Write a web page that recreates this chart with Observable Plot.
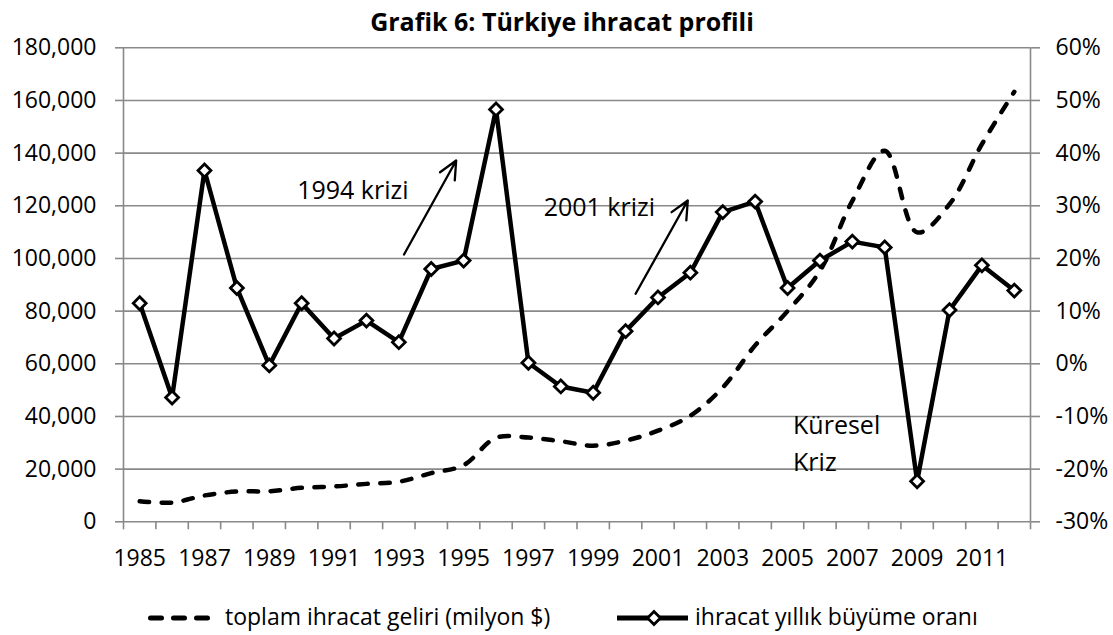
<!DOCTYPE html>
<html>
<head>
<meta charset="utf-8">
<script src="https://cdn.jsdelivr.net/npm/d3@7"></script>
<script src="https://cdn.jsdelivr.net/npm/@observablehq/plot@0.6"></script>
<style>
  body { margin: 0; background: #fff; font-family: 'Open Sans', sans-serif; }
  #page { position: relative; width: 1113px; height: 635px; overflow: hidden; background: #fff; }
  #title { position: absolute; left: 0; top: 8.5px; width: 1124px; z-index: 2;
           text-align: center; font-weight: bold; font-size: 25px; line-height: 25px; color: #000; }
  #chart { position: absolute; left: 0; top: 0; }
  #legend { position: absolute; left: 0; top: 600px; display: block; }
</style>
</head>
<body>
<div id="page">
  <div id="title">Grafik 6: Türkiye ihracat profili</div>
  <div id="chart"></div>
  <svg id="legend" width="1113" height="35"></svg>
</div>
<script>
// ---- data ----
const years = [1985,1986,1987,1988,1989,1990,1991,1992,1993,1994,1995,1996,1997,1998,
               1999,2000,2001,2002,2003,2004,2005,2006,2007,2008,2009,2010,2011,2012];
// toplam ihracat geliri (milyon $) – left axis
const exportsMn = [7800,7300,10000,11500,11600,12900,13400,14400,15200,18500,21500,31900,32000,30600,
                   28900,30800,34600,40300,51000,67000,80000,95300,121900,140900,109900,120600,143400,163300];
// ihracat yıllık büyüme oranı (%) – right axis
const growthPct = [11.5,-6.4,36.7,14.4,-0.3,11.5,4.8,8.2,4.1,18.0,19.6,48.3,0.2,-4.3,
                   -5.5,6.2,12.6,17.3,28.8,30.8,14.4,19.6,23.2,22.1,-22.3,10.2,18.7,13.9];
const leftTicks = [0,20000,40000,60000,80000,100000,120000,140000,160000,180000];
const rightTicks = [-30,-20,-10,0,10,20,30,40,50,60];
const yearLabels = [1985,1987,1989,1991,1993,1995,1997,1999,2001,2003,2005,2007,2009,2011];
const seriesNames = ["toplam ihracat geliri (milyon $)", "ihracat yıllık büyüme oranı"];
// annotations (in data units: year, left-axis value)
const noteText = ["1994 krizi", "2001 krizi", "Küresel", "Kriz"];
const noteYear = [1989.86, 1997.47, 2005.17, 2005.17];
const noteVal  = [125700, 119100, 36450, 22500];
const arrowYear1 = [1993.16, 2000.31];
const arrowVal1  = [101500, 86600];
const arrowYear2 = [1994.77, 2001.92];
const arrowVal2  = [137200, 122000];

// ---- helpers ----
const toLeft = g => (g + 30) * 2000;   // map % to left-axis units (-30..60 -> 0..180000)
const gray = "#898989";
const FS = 23;
const NFS = 25;
const bounds = d3.range(years[0] - 0.5, years[years.length - 1] + 1, 1);

const expData = years.map((y, i) => ({year: y, value: exportsMn[i]}));
const grData = years.map((y, i) => ({year: y, value: growthPct[i]}));
const notes = noteText.map((t, i) => ({t, x: noteYear[i], y: noteVal[i]}));
const arrows = arrowYear1.map((x, i) => ({x1: x, y1: arrowVal1[i], x2: arrowYear2[i], y2: arrowVal2[i]}));

const chart = Plot.plot({
  width: 1113,
  height: 600,
  marginLeft: 123,
  marginRight: 83,
  marginTop: 47.3,
  marginBottom: 78.7,
  style: {fontFamily: "'Open Sans', sans-serif", fontSize: FS + "px", color: "#000", background: "transparent"},
  x: {type: "linear", domain: [years[0] - 0.5, years[years.length - 1] + 0.5]},
  y: {type: "linear", domain: [leftTicks[0], leftTicks[leftTicks.length - 1]]},
  marks: [
    Plot.gridY({ticks: leftTicks, stroke: gray, strokeOpacity: 1, strokeWidth: 1.6}),
    Plot.ruleX([bounds[0], bounds[bounds.length - 1]], {stroke: gray, strokeWidth: 1.6}),
    // tick marks
    Plot.axisY({ticks: leftTicks, tickSize: 8, tickFormat: () => "", stroke: gray, strokeWidth: 1.6}),
    Plot.axisY({anchor: "right", ticks: leftTicks, tickSize: 9, tickFormat: () => "", stroke: gray, strokeWidth: 1.6}),
    Plot.axisX({ticks: bounds, tickSize: 8, tickFormat: () => "", stroke: gray, strokeWidth: 1.6}),
    // labels
    Plot.axisY({ticks: leftTicks, tickSize: 0, tickPadding: 27, tickFormat: d3.format(","), fontSize: FS}),
    Plot.axisY({anchor: "right", ticks: rightTicks.map(toLeft), tickSize: 0, tickPadding: 25,
                tickFormat: v => Math.round(v / 2000 - 30) + "%", fontSize: FS}),
    Plot.axisX({ticks: yearLabels, tickSize: 0, tickPadding: 27.4, tickFormat: d => String(d), fontSize: FS}),
    // series
    Plot.line(expData, {x: "year", y: "value", curve: "catmull-rom", stroke: "#000", strokeWidth: 4.5,
                        strokeDasharray: "9.5,12.5", strokeLinecap: "round"}),
    Plot.line(grData, {x: "year", y: d => toLeft(d.value), stroke: "#000", strokeWidth: 4.5, strokeLinejoin: "round"}),
    Plot.dot(grData, {x: "year", y: d => toLeft(d.value), symbol: "diamond2", r: 5.8,
                      fill: "#fff", stroke: "#000", strokeWidth: 2.8}),
    // annotations
    Plot.text(notes, {x: "x", y: "y", text: "t", textAnchor: "start", lineAnchor: "middle", fontSize: NFS, fill: "#000"}),
    Plot.arrow(arrows, {x1: "x1", y1: "y1", x2: "x2", y2: "y2", stroke: "#000", strokeWidth: 2.3,
                        headLength: 13, headAngle: 50})
  ]
});
document.getElementById("chart").appendChild(chart);

// ---- legend ----
const leg = d3.select("#legend");
leg.append("line").attr("x1", 150.5).attr("x2", 208).attr("y1", 18).attr("y2", 18)
  .attr("stroke", "#000").attr("stroke-width", 5).attr("stroke-linecap", "round")
  .attr("stroke-dasharray", "11 12");
leg.append("text").attr("x", 225).attr("y", 25).attr("font-size", FS)
  .attr("font-family", "'Open Sans', sans-serif").text(seriesNames[0]);
leg.append("line").attr("x1", 617).attr("x2", 688).attr("y1", 18).attr("y2", 18)
  .attr("stroke", "#000").attr("stroke-width", 5);
leg.append("path").attr("d", d3.symbol(d3.symbolDiamond2, Math.PI * 5.8 * 5.8)())
  .attr("transform", "translate(654,18)").attr("fill", "#fff").attr("stroke", "#000").attr("stroke-width", 2.8);
leg.append("text").attr("x", 695).attr("y", 25).attr("font-size", FS)
  .attr("font-family", "'Open Sans', sans-serif").text(seriesNames[1]);
</script>
</body>
</html>
